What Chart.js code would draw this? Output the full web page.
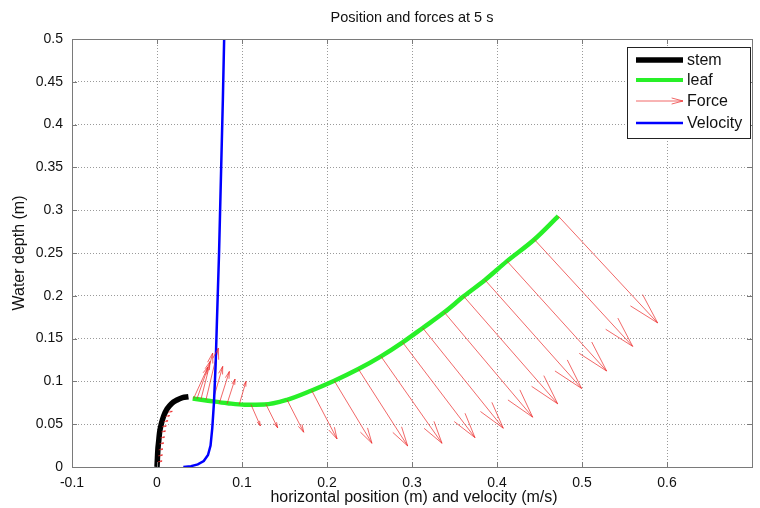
<!DOCTYPE html>
<html>
<head>
<meta charset="utf-8">
<script src="https://cdn.jsdelivr.net/npm/chart.js@4.4.1/dist/chart.umd.min.js"></script>
<style>
  html, body { margin: 0; padding: 0; background: #fff; }
  #wrap { width: 760px; height: 508px; position: relative; }
</style>
</head>
<body>
<div id="wrap"><canvas id="chForce"></canvas></div>
<script>
// Position and forces at 5 s

// stem centreline (m)
const stemX = [0, 0.0005, 0.001, 0.002, 0.003, 0.005, 0.008, 0.012, 0.017, 0.023, 0.030, 0.037];
const stemY = [0, 0.010, 0.020, 0.030, 0.040, 0.050, 0.060, 0.068, 0.074, 0.078, 0.081, 0.082];

// leaf centreline (m)
const leafX = [0.042, 0.060, 0.083, 0.103, 0.126, 0.153, 0.182, 0.2086, 0.2369, 0.2635, 0.289, 0.3126, 0.338, 0.3608, 0.3859, 0.4118, 0.4439, 0.4721];
const leafY = [0.080, 0.0775, 0.0745, 0.0728, 0.0730, 0.0785, 0.0894, 0.1007, 0.1144, 0.1292, 0.1456, 0.1624, 0.1807, 0.1994, 0.2185, 0.2405, 0.2658, 0.2931];

// velocity profile (m/s vs depth)
const velX = [0.031, 0.040, 0.048, 0.055, 0.060, 0.063, 0.065, 0.067, 0.069, 0.0705, 0.073, 0.0755, 0.0775, 0.079];
const velY = [0, 0.001, 0.003, 0.007, 0.014, 0.025, 0.045, 0.075, 0.120, 0.170, 0.250, 0.350, 0.430, 0.500];

// force vectors: origin (X,Y) and components (U,V)
const forceX = [0.001, 0.0015, 0.002, 0.003, 0.004, 0.005, 0.006, 0.008, 0.010, 0.013,
                0.043, 0.047, 0.0518, 0.0576, 0.0655, 0.0733, 0.0824, 0.0968,
                0.1106, 0.1282, 0.153, 0.182, 0.2086, 0.2369, 0.2635, 0.289, 0.3126, 0.338, 0.3608, 0.3859, 0.4118, 0.4439, 0.4721];
const forceY = [0.006, 0.013, 0.020, 0.027, 0.034, 0.041, 0.047, 0.053, 0.059, 0.064,
                0.080, 0.0796, 0.0793, 0.0785, 0.0765, 0.0746, 0.0738, 0.0730,
                0.0729, 0.0732, 0.0785, 0.0894, 0.1007, 0.1144, 0.1292, 0.1456, 0.1624, 0.1807, 0.1994, 0.2185, 0.2405, 0.2658, 0.2931];
const forceU = [0.005, 0.005, 0.005, 0.005, 0.005, 0.005, 0.005, 0.005, 0.005, 0.005,
                0.017, 0.0154, 0.0137, 0.0146, 0.0118, 0.0118, 0.0094, 0.0079,
                0.011, 0.0138, 0.0196, 0.0298, 0.0443, 0.058, 0.0718, 0.0851, 0.0948, 0.104, 0.1106, 0.1137, 0.1172, 0.1157, 0.1169];
const forceV = [0.001, 0.001, 0.001, 0.001, 0.001, 0.001, 0.001, 0.001, 0.001, 0.001,
                0.037, 0.0437, 0.0538, 0.0605, 0.041, 0.037, 0.0289, 0.027,
                -0.0249, -0.0275, -0.0379, -0.0566, -0.073, -0.0898, -0.1015, -0.1113, -0.1171, -0.1225, -0.1256, -0.1268, -0.1284, -0.1249, -0.1248];

const xTicks = [-0.1, 0, 0.1, 0.2, 0.3, 0.4, 0.5, 0.6, 0.7];
const yTicks = [0, 0.05, 0.1, 0.15, 0.2, 0.25, 0.3, 0.35, 0.4, 0.45, 0.5];

const legendLabels = ['stem', 'leaf', 'Force', 'Velocity'];

const FONT = '"Liberation Sans", Arial, sans-serif';
const RED = 'rgba(235,40,40,0.7)';
const GREEN = 'rgb(40,240,40)';

function pts(xs, ys) {
    return xs.map((x, i) => ({ x: x, y: ys[i] }));
}

function forceSegments() {
    const out = [];
    forceX.forEach((x, i) => {
        out.push({ x: x, y: forceY[i] });
        out.push({ x: x + forceU[i], y: forceY[i] + forceV[i] });
        out.push({ x: x, y: null });
    });
    return out;
}

function arrowHead(ctx, x0, y0, x1, y1, frac, ang) {
    const dx = x1 - x0, dy = y1 - y0;
    const len = Math.hypot(dx, dy);
    const hl = Math.max(2, len * frac);
    const a = Math.atan2(dy, dx);
    ctx.beginPath();
    ctx.moveTo(x1 - hl * Math.cos(a - ang), y1 - hl * Math.sin(a - ang));
    ctx.lineTo(x1, y1);
    ctx.lineTo(x1 - hl * Math.cos(a + ang), y1 - hl * Math.sin(a + ang));
    ctx.stroke();
}

// arrow heads, axes box, inner tick marks, texts and legend
const matlabLook = {
    id: 'matlabLook',
    afterDatasetsDraw(chart) {
        const ctx = chart.ctx;
        const xs = chart.scales.x, ys = chart.scales.y;
        ctx.save();
        ctx.strokeStyle = RED;
        ctx.lineWidth = 1;
        forceX.forEach((x, i) => {
            const px0 = xs.getPixelForValue(x), py0 = ys.getPixelForValue(forceY[i]);
            const px1 = xs.getPixelForValue(x + forceU[i]), py1 = ys.getPixelForValue(forceY[i] + forceV[i]);
            arrowHead(ctx, px0, py0, px1, py1, 0.22, 15 * Math.PI / 180);
        });
        ctx.restore();
    },
    afterDraw(chart) {
        const ctx = chart.ctx;
        const a = chart.chartArea;
        const xs = chart.scales.x, ys = chart.scales.y;
        ctx.save();

        // box
        ctx.strokeStyle = '#7a7a7a';
        ctx.lineWidth = 1;
        ctx.strokeRect(Math.round(a.left) + 0.5, Math.round(a.top) + 0.5,
                       Math.round(a.right - a.left), Math.round(a.bottom - a.top));

        // inward ticks
        ctx.beginPath();
        xTicks.forEach(v => {
            const px = Math.round(xs.getPixelForValue(v)) + 0.5;
            ctx.moveTo(px, a.bottom); ctx.lineTo(px, a.bottom - 5);
            ctx.moveTo(px, a.top); ctx.lineTo(px, a.top + 5);
        });
        yTicks.forEach(v => {
            const py = Math.round(ys.getPixelForValue(v)) + 0.5;
            ctx.moveTo(a.left, py); ctx.lineTo(a.left + 5, py);
            ctx.moveTo(a.right, py); ctx.lineTo(a.right - 5, py);
        });
        ctx.stroke();

        // title and axis labels
        const cx = (a.left + a.right) / 2;
        ctx.fillStyle = '#111';
        ctx.textAlign = 'center';
        ctx.textBaseline = 'middle';
        ctx.font = '14.5px ' + FONT;
        ctx.fillText('Position and forces at 5 s', cx, 18);
        ctx.font = '16px ' + FONT;
        ctx.fillText('horizontal position (m) and velocity (m/s)', cx + 2, 498);
        ctx.save();
        ctx.translate(20, (a.top + a.bottom) / 2);
        ctx.rotate(-Math.PI / 2);
        ctx.fillText('Water depth (m)', 0, 0);
        ctx.restore();

        // legend
        const lx = 627, ly = 47, lw = 123, lh = 91;
        ctx.fillStyle = '#fff';
        ctx.fillRect(lx, ly, lw, lh);
        ctx.strokeStyle = '#222';
        ctx.lineWidth = 1;
        ctx.strokeRect(lx + 0.5, ly + 0.5, lw, lh);
        const rowY = [60, 80, 101, 123];
        const x0 = 636, x1 = 683;
        const styles = [
            { c: '#000', w: 5.5 },
            { c: GREEN, w: 4 },
            { c: RED, w: 1 },
            { c: '#0000ff', w: 2.5 }
        ];
        legendLabels.forEach((lab, i) => {
            const y = rowY[i];
            ctx.strokeStyle = styles[i].c;
            ctx.lineWidth = styles[i].w;
            ctx.beginPath();
            ctx.moveTo(x0, y); ctx.lineTo(x1, y);
            ctx.stroke();
            if (lab === 'Force') arrowHead(ctx, x0, y, x1, y, 0.25, 15 * Math.PI / 180);
            ctx.fillStyle = '#111';
            ctx.textAlign = 'left';
            ctx.font = '16px ' + FONT;
            ctx.fillText(lab, 687, y + 1);
        });
        ctx.restore();
    }
};

const fmt = v => String(parseFloat(Number(v).toFixed(2)));

new Chart(document.getElementById('chForce').getContext('2d'), {
    type: 'scatter',
    data: {
        datasets: [
            {
                label: 'Velocity',
                data: pts(velX, velY),
                borderColor: '#0000ff',
                borderWidth: 2.5,
                pointRadius: 0,
                showLine: true,
                fill: false
            },
            {
                label: 'Force',
                data: forceSegments(),
                borderColor: RED,
                borderWidth: 1,
                pointRadius: 0,
                showLine: true,
                spanGaps: false,
                fill: false
            },
            {
                label: 'leaf',
                data: pts(leafX, leafY),
                borderColor: GREEN,
                borderWidth: 4.5,
                pointRadius: 0,
                showLine: true,
                cubicInterpolationMode: 'monotone',
                fill: false
            },
            {
                label: 'stem',
                data: pts(stemX, stemY),
                borderColor: '#000',
                borderWidth: 5.5,
                pointRadius: 0,
                showLine: true,
                cubicInterpolationMode: 'monotone',
                fill: false
            }
        ]
    },
    options: {
        responsive: true,
        maintainAspectRatio: false,
        animation: false,
        layout: { padding: { top: 39, right: 8, left: 0, bottom: 0 } },
        scales: {
            x: {
                type: 'linear',
                min: -0.1,
                max: 0.7,
                afterFit: s => { s.height = 41; },
                afterBuildTicks: s => { s.ticks = xTicks.map(v => ({ value: v })); },
                grid: { color: '#9a9a9a', lineWidth: 1, drawTicks: false },
                border: { display: false, dash: [1, 2] },
                ticks: {
                    color: '#111',
                    padding: 8,
                    maxRotation: 0,
                    font: { family: FONT, size: 14 },
                    callback: v => (Math.abs(v - 0.7) < 1e-9 ? '' : fmt(v))
                }
            },
            y: {
                type: 'linear',
                min: 0,
                max: 0.5,
                afterFit: s => { s.width = 72; },
                afterBuildTicks: s => { s.ticks = yTicks.map(v => ({ value: v })); },
                grid: { color: '#9a9a9a', lineWidth: 1, drawTicks: false },
                border: { display: false, dash: [1, 2] },
                ticks: {
                    color: '#111',
                    padding: 9,
                    font: { family: FONT, size: 14 },
                    callback: v => fmt(v)
                }
            }
        },
        plugins: {
            legend: { display: false },
            tooltip: { enabled: false },
            title: { display: false }
        }
    },
    plugins: [matlabLook]
});
</script>
</body>
</html>
